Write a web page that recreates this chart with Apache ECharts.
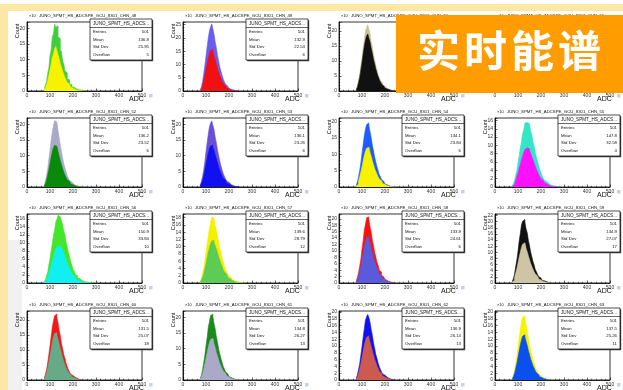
<!DOCTYPE html>
<html>
<head>
<meta charset="utf-8">
<script src="https://cdn.jsdelivr.net/npm/echarts@6/dist/echarts.min.js"></script>
<style>
  html, body { margin: 0; padding: 0; background: #fff; }
  #chart { width: 623px; height: 390px; }
</style>
</head>
<body>
<div id="chart"></div>
<script>
// histogram bins: left edge of first bin and bin width (ADC)
const BIN_START = 75;
const BIN_WIDTH = 5;
const X_TICKS = [0, 100, 200, 300, 400, 500];

const CHANNELS = [48, 49, 50, 51, 52, 53, 54, 55, 56, 57, 58, 59, 60, 61, 62, 63];
const ENTRIES = [501, 501, 501, 501, 501, 501, 501, 501, 501, 501, 501, 501, 501, 501, 501, 501];
const MEANS = [136.8, 132.9, 133.6, 135.0, 136.2, 136.1, 134.1, 147.8, 150.9, 139.6, 133.9, 134.9, 131.5, 134.8, 136.9, 137.5];
const STD_DEVS = [25.95, 22.54, 24.12, 24.80, 23.52, 23.26, 23.84, 32.58, 33.84, 28.79, 24.61, 27.07, 25.07, 26.27, 26.14, 25.26];
const OVERFLOWS = [5, 6, 7, 6, 6, 6, 6, 4, 10, 12, 6, 17, 18, 13, 13, 11];

// y axis range (counts x10) and tick step per panel
const Y_MAX = [22, 26, 23, 21, 22, 22, 21, 16.6, 17.2, 19, 21.5, 22.5, 23, 22, 20.3, 20.3];
const Y_STEP = [5, 5, 5, 5, 5, 5, 5, 2, 2, 2, 2, 2, 5, 5, 2, 2];

// counts per bin (x10), drawn behind
const BACK_COUNTS = [
  [0.6,1.9,3.0,5.6,7.4,11.2,13.1,17.3,18.2,21.4,20.3,20.8,17.2,16.7,13.1,12.4,9.4,8.7,6.3,5.8,3.9,3.6,2.3,2.1,1.3,1.2,0.7,0.7,0.3,0.4,0.1,0.3,0.1,0.1],
  [0.5,1.6,3.5,6.5,9.6,13.2,16.8,20.1,22.7,24.2,25.3,23.4,21.4,18.6,16.3,13.4,11.3,9.0,7.4,5.9,4.4,3.5,2.5,1.8,1.4,0.9,0.7,0.5,0.3,0.2,0.2,0.1,0.1,0],
  [0.7,1.6,3.5,5.3,8.3,11.0,14.6,17.1,20.0,21.2,22.1,20.5,19.2,16.4,14.8,12.1,10.6,8.4,7.2,5.5,4.6,3.4,2.8,1.9,1.6,1.0,0.9,0.6,0.5,0.3,0.2,0.2,0.1,0.1],
  [0.6,1.5,3.2,5.1,7.2,10.4,12.8,16.1,17.7,19.8,20.1,19.2,17.0,15.4,13.0,11.4,9.2,7.9,6.2,5.3,3.9,3.3,2.3,1.9,1.3,1.1,0.7,0.6,0.4,0.3,0.2,0.2,0.1,0.1],
  [0.5,1.8,3.6,5.9,8.9,11.7,14.9,17.5,19.6,21.2,20.7,20.1,17.9,15.6,13.2,11.3,9.2,7.4,6.1,4.8,3.6,2.9,2.1,1.6,1.1,0.9,0.6,0.4,0.3,0.2,0.1,0.1,0.1,0],
  [0.6,1.7,3.3,5.4,8.1,11.3,14.2,16.9,19.2,20.4,21.1,19.6,18.3,15.9,14.1,11.8,10.0,8.2,6.8,5.4,4.3,3.4,2.6,1.9,1.5,1.0,0.8,0.6,0.4,0.3,0.2,0.2,0.1,0.1],
  [0.5,1.5,3.1,5.0,7.4,10.1,12.9,15.6,17.6,19.0,19.5,18.7,16.8,15.0,12.8,11.0,9.1,7.6,6.2,5.0,3.8,3.1,2.3,1.7,1.3,0.9,0.7,0.5,0.3,0.3,0.1,0.2,0.1,0],
  [0.3,0.9,1.5,2.9,4.0,5.9,7.4,9.5,10.8,12.9,13.8,15.4,15.6,16.0,15.2,14.9,13.4,12.6,10.8,9.9,8.3,7.3,6.0,5.2,4.1,3.4,2.7,2.1,1.6,1.3,0.9,0.8,0.5,0.4,0.3,0.3,0.1,0.2,0.1,0.1,0,0.1],
  [0.3,0.8,1.8,2.7,4.6,6.0,8.1,9.8,11.9,13.2,15.2,15.9,16.9,16.5,16.8,15.4,14.6,12.9,12.0,10.2,9.1,7.6,6.6,5.3,4.5,3.5,3.0,2.2,1.8,1.3,1.1,0.7,0.6,0.4,0.4,0.2,0.2,0.1,0.1,0.1,0,0.1],
  [0.4,1.2,2.6,4.0,6.3,8.3,11.0,12.9,15.3,16.6,18.2,17.8,17.4,15.6,14.6,12.6,11.4,9.6,8.5,6.9,5.9,4.6,3.9,3.0,2.4,1.8,1.5,1.1,0.8,0.6,0.5,0.3,0.3,0.2,0.2,0.1,0.1,0],
  [0.6,1.7,3.2,5.3,7.4,10.6,13.2,16.5,18.2,20.3,20.6,19.6,17.5,15.8,13.3,11.6,9.5,8.1,6.5,5.5,4.0,3.4,2.4,1.9,1.4,1.1,0.8,0.6,0.4,0.3,0.2,0.2,0.1,0.1],
  [0.5,1.4,3.0,5.4,7.5,10.3,13.6,16.1,18.9,20.1,20.7,19.9,17.7,16.4,13.9,12.2,10.1,8.6,7.0,5.9,4.4,3.7,2.8,2.1,1.6,1.2,0.9,0.7,0.5,0.4,0.3,0.2,0.2,0.1],
  [0.6,1.9,3.4,5.7,8.5,11.4,14.5,17.6,19.7,21.4,22.0,20.7,19.1,16.5,14.7,12.1,10.4,8.4,7.2,5.6,4.5,3.4,2.7,2.0,1.5,1.1,0.9,0.6,0.5,0.3,0.2,0.2,0.1,0.1],
  [0.5,1.6,3.3,5.5,7.9,10.9,13.5,16.8,18.6,20.6,21.0,20.1,18.0,16.3,13.8,12.0,9.9,8.3,6.9,5.6,4.3,3.5,2.6,2.0,1.5,1.1,0.8,0.6,0.4,0.3,0.2,0.2,0.1,0.1],
  [0.5,1.5,3.1,4.8,7.3,9.8,12.6,15.1,17.6,18.6,19.3,18.4,17.0,14.8,13.1,10.9,9.3,7.5,6.4,5.0,4.0,3.1,2.4,1.8,1.4,1.0,0.8,0.6,0.4,0.3,0.2,0.2,0.1,0.1],
  [0.5,1.4,2.9,4.9,7.0,9.7,12.5,14.7,17.3,18.4,18.9,18.1,16.2,14.6,12.4,10.8,8.8,7.5,6.0,5.0,3.8,3.1,2.3,1.7,1.3,1.0,0.7,0.6,0.4,0.3,0.2,0.2,0.1,0]
];

// counts per bin (x10), drawn in front
const FRONT_COUNTS = [
  [0.4,1.1,2.1,3.4,5.0,6.9,8.6,10.9,11.8,13.5,14.2,12.9,11.6,10.3,8.7,7.6,6.3,5.3,4.3,3.5,2.7,2.2,1.6,1.2,0.9,0.7,0.5,0.4,0.2,0.2,0.1,0.1,0.1,0],
  [0.3,1.0,2.2,4.0,6.0,8.2,10.4,12.5,14.0,15.3,15.6,14.6,13.2,11.6,10.0,8.3,7.0,5.6,4.6,3.6,2.8,2.1,1.5,1.1,0.8,0.6,0.4,0.3,0.2,0.1,0.1,0.1,0,0],
  [0.5,1.3,2.9,4.6,7.0,9.5,12.3,14.8,17.0,18.3,19.0,17.6,16.3,14.2,12.5,10.4,9.0,7.3,6.0,4.8,3.8,3.0,2.3,1.7,1.3,0.9,0.7,0.5,0.4,0.2,0.2,0.1,0.1,0],
  [0.4,1.0,2.0,3.3,4.7,6.6,8.2,10.2,11.4,12.6,12.9,12.2,10.9,9.8,8.3,7.2,5.9,5.0,4.0,3.3,2.5,2.1,1.5,1.2,0.8,0.7,0.5,0.4,0.2,0.2,0.1,0.1,0.1,0],
  [0.3,1.1,2.3,3.8,5.6,7.5,9.5,11.2,12.6,13.3,13.0,12.5,11.2,9.8,8.3,7.1,5.8,4.7,3.8,3.0,2.3,1.8,1.3,1.0,0.7,0.5,0.4,0.3,0.2,0.1,0.1,0.1,0,0],
  [0.4,1.1,2.1,3.5,5.2,7.2,9.0,10.8,12.3,13.1,13.4,12.6,11.7,10.2,9.0,7.6,6.4,5.3,4.4,3.5,2.8,2.2,1.7,1.2,1.0,0.6,0.5,0.4,0.2,0.2,0.1,0.1,0.1,0],
  [0.3,0.9,1.9,3.1,4.6,6.2,8.0,9.7,10.9,11.8,12.1,11.5,10.4,9.3,8.0,6.8,5.6,4.7,3.9,3.1,2.4,1.9,1.4,1.1,0.8,0.6,0.4,0.3,0.2,0.2,0.1,0.1,0,0],
  [0.2,0.5,0.9,1.7,2.5,3.4,4.5,5.5,6.6,7.5,8.3,9.0,9.4,9.5,9.2,8.7,8.1,7.3,6.6,5.8,5.0,4.3,3.6,3.0,2.5,2.0,1.6,1.2,1.0,0.8,0.6,0.4,0.3,0.2,0.2,0.1,0.1,0.1,0,0,0,0],
  [0.2,0.5,1.0,1.6,2.5,3.4,4.5,5.5,6.6,7.5,8.4,9.0,9.3,9.3,9.1,8.7,8.1,7.4,6.6,5.8,5.0,4.3,3.6,3.0,2.5,2.0,1.6,1.3,1.0,0.8,0.6,0.4,0.3,0.2,0.2,0.1,0.1,0.1,0,0,0,0],
  [0.2,0.8,1.6,2.7,3.9,5.4,7.0,8.5,9.8,10.9,11.6,11.7,11.1,10.3,9.4,8.3,7.3,6.3,5.4,4.6,3.7,3.0,2.5,2.0,1.5,1.2,0.9,0.7,0.5,0.4,0.3,0.2,0.2,0.1,0.1,0.1,0,0],
  [0.4,1.2,2.3,3.7,5.3,7.4,9.3,11.4,12.9,14.1,14.5,13.7,12.3,10.9,9.4,8.0,6.7,5.6,4.6,3.7,2.9,2.3,1.7,1.3,1.0,0.7,0.6,0.4,0.3,0.2,0.1,0.1,0.1,0],
  [0.3,0.9,1.9,3.3,4.7,6.5,8.4,10.0,11.6,12.6,13.1,12.5,11.3,10.2,8.9,7.6,6.4,5.4,4.5,3.7,2.9,2.3,1.8,1.3,1.0,0.8,0.6,0.4,0.3,0.2,0.2,0.1,0.1,0],
  [0.4,1.3,2.5,4.1,6.1,8.2,10.4,12.6,14.4,15.5,15.8,15.0,13.6,12.0,10.5,8.9,7.5,6.2,5.1,4.1,3.2,2.5,1.9,1.4,1.1,0.8,0.6,0.4,0.3,0.2,0.2,0.1,0.1,0],
  [0.3,1.0,2.1,3.5,5.1,6.9,8.7,10.5,11.9,12.9,13.3,12.7,11.5,10.3,8.8,7.6,6.4,5.3,4.4,3.6,2.8,2.2,1.7,1.3,1.0,0.7,0.5,0.4,0.3,0.2,0.1,0.1,0.1,0],
  [0.3,1.0,2.0,3.3,4.8,6.6,8.5,10.2,11.6,12.6,13.0,12.4,11.2,9.9,8.6,7.3,6.1,5.1,4.2,3.4,2.6,2.1,1.6,1.2,0.9,0.7,0.5,0.4,0.3,0.2,0.1,0.1,0.1,0],
  [0.4,1.0,2.0,3.4,4.9,6.7,8.6,10.3,11.8,12.9,13.3,12.7,11.4,10.2,8.7,7.5,6.2,5.2,4.2,3.5,2.7,2.1,1.6,1.2,0.9,0.7,0.5,0.4,0.3,0.2,0.1,0.1,0.1,0]
];

// fill colours (style, not data)
const BACK_COLORS = ['#3fcf3a', '#6a5cf0', '#c9bf9a', '#3355ff', '#aaaac8', '#6a50d8', '#1f5cff', '#33e6c6',
                     '#44e62a', '#f5f000', '#ff1010', '#111111', '#f01818', '#1a8a1a', '#1010f0', '#f6f200'];
const FRONT_COLORS = ['#f7f200', '#f21010', '#111111', '#66dd66', '#0a8a0a', '#1010f0', '#f7f200', '#ff10ff',
                      '#10f0f0', '#5ccc55', '#5a5ade', '#cdc5a5', '#66aa88', '#aaaac8', '#cc5a50', '#0a50f0'];

const COL_X = [27, 183, 339, 495];
const ROW_TOP = [22, 118, 214, 311];
const PLOT_W = 115;
const PLOT_H = 69;
const FONT = '"Liberation Sans", Arial, sans-serif';

function histData(counts) {
  const pts = counts.map((v, i) => [BIN_START + i * BIN_WIDTH, v]);
  pts.push([BIN_START + counts.length * BIN_WIDTH, 0]);
  return pts;
}

function txt(x, y, text, size, extra) {
  return Object.assign({
    type: 'text', x: x, y: y, z: 60, silent: true,
    style: { text: text, fontSize: size, fontFamily: FONT, fill: '#111', align: 'left', verticalAlign: 'middle' }
  }, extra || {});
}

const grids = [], xAxes = [], yAxes = [], series = [];
const graphics = [
  { type: 'rect', z: -5, shape: { x: 0, y: 4, width: 623, height: 7 }, style: { fill: '#fde7a4' } },
  { type: 'rect', z: -5, shape: { x: 0, y: 4, width: 8, height: 386 }, style: { fill: '#fde7a4' } },
  { type: 'rect', z: -5, shape: { x: 8, y: 240, width: 14, height: 150 }, style: { fill: '#f1f1f3' } }
];

CHANNELS.forEach((ch, i) => {
  const x0 = COL_X[i % 4];
  const top = ROW_TOP[Math.floor(i / 4)];
  const bottom = top + PLOT_H;

  grids.push({ left: x0, top: top, width: PLOT_W, height: PLOT_H, show: true,
    borderColor: '#000', borderWidth: 0.8, backgroundColor: '#fff' });

  xAxes.push({
    type: 'value', gridIndex: i, min: X_TICKS[0], max: X_TICKS[X_TICKS.length - 1],
    interval: X_TICKS[1] - X_TICKS[0],
    axisLine: { lineStyle: { color: '#000', width: 0.8 } },
    axisTick: { inside: true, length: 2.5, lineStyle: { color: '#000', width: 0.6 } },
    minorTick: { show: true, splitNumber: 5, length: 1.3, lineStyle: { color: '#000', width: 0.5 } },
    splitLine: { show: false },
    axisLabel: { fontSize: 5, fontFamily: FONT, color: '#333', margin: 2 }
  });

  yAxes.push({
    type: 'value', gridIndex: i, min: 0, max: Y_MAX[i], interval: Y_STEP[i],
    axisLine: { show: true, lineStyle: { color: '#000', width: 0.8 } },
    axisTick: { show: true, inside: true, length: 2.5, lineStyle: { color: '#000', width: 0.6 } },
    minorTick: { show: true, splitNumber: Y_STEP[i] === 5 ? 5 : 4, length: 1.3, lineStyle: { color: '#000', width: 0.5 } },
    splitLine: { show: false },
    axisLabel: { fontSize: 5, fontFamily: FONT, color: '#333', margin: 2, showMaxLabel: false }
  });

  series.push({
    type: 'line', xAxisIndex: i, yAxisIndex: i, step: 'end', symbol: 'none', silent: true,
    data: histData(BACK_COUNTS[i]),
    lineStyle: { color: BACK_COLORS[i], width: 0.6 },
    areaStyle: { color: BACK_COLORS[i], opacity: 1 }
  });
  series.push({
    type: 'line', xAxisIndex: i, yAxisIndex: i, step: 'end', symbol: 'none', silent: true,
    data: histData(FRONT_COUNTS[i]),
    lineStyle: { color: FRONT_COLORS[i], width: 0.6 },
    areaStyle: { color: FRONT_COLORS[i], opacity: 1 }
  });

  // title, axis titles
  graphics.push(txt(x0 + 2, top - 6, '×10', 4));
  graphics.push(txt(x0 + 12, top - 6, 'JUNO_SPMT_HS_ADCSPE_GCU_8301_CHN_' + ch, 4.3));
  graphics.push(txt(x0 - 10, top + 9, 'Count', 5.5, { rotation: Math.PI / 2,
    style: { text: 'Count', fontSize: 5.5, fontFamily: FONT, fill: '#111', align: 'center', verticalAlign: 'middle' } }));
  graphics.push(txt(x0 + 102, bottom + 8, 'ADC', 7));
  graphics.push({ type: 'rect', z: 60, silent: true,
    shape: { x: x0 + 122, y: bottom + 3, width: 3.5, height: 3.5 }, style: { fill: '#c3d3ec' } });

  // stats box
  const bx = x0 + 63, by = top - 3, bw = 62, bh = 41;
  graphics.push({ type: 'rect', z: 55, silent: true, shape: { x: bx + 1.2, y: by + 1.2, width: bw, height: bh }, style: { fill: '#444' } });
  graphics.push({ type: 'rect', z: 56, silent: true, shape: { x: bx, y: by, width: bw, height: bh },
    style: { fill: '#fff', stroke: '#000', lineWidth: 0.7 } });
  graphics.push({ type: 'line', z: 57, silent: true, shape: { x1: bx, y1: by + 8.5, x2: bx + bw, y2: by + 8.5 },
    style: { stroke: '#000', lineWidth: 0.6 } });
  graphics.push(txt(bx + bw / 2, by + 4.5, 'JUNO_SPMT_HS_ADCS...', 4.6,
    { style: { text: 'JUNO_SPMT_HS_ADCS...', fontSize: 4.6, fontFamily: FONT, fill: '#111', align: 'center', verticalAlign: 'middle' } }));
  const rows = [['Entries', String(ENTRIES[i])], ['Mean', MEANS[i].toFixed(1)],
                ['Std Dev', STD_DEVS[i].toFixed(2)], ['Overflow', String(OVERFLOWS[i])]];
  rows.forEach((r, k) => {
    const ry = by + 12.7 + k * 7.7;
    graphics.push(txt(bx + 3, ry, r[0], 4.3));
    graphics.push(txt(bx + bw - 3, ry, r[1], 4.3,
      { style: { text: r[1], fontSize: 4.3, fontFamily: FONT, fill: '#111', align: 'right', verticalAlign: 'middle' } }));
  });
});

// orange banner on top
graphics.push({ type: 'rect', z: 100, silent: true, shape: { x: 396, y: 15, width: 227, height: 78 }, style: { fill: '#ff9c00' } });
['实', '时', '能', '谱'].forEach((c, k) => {
  graphics.push({ type: 'text', z: 101, silent: true, x: 438.5 + k * 47, y: 51,
    style: { text: c, fontSize: 43, fontWeight: 'bold', fontFamily: '"Noto Sans CJK SC", sans-serif',
      fill: '#fff', align: 'center', verticalAlign: 'middle' } });
});

const chart = echarts.init(document.getElementById('chart'));
chart.setOption({
  animation: false,
  backgroundColor: '#fff',
  grid: grids,
  xAxis: xAxes,
  yAxis: yAxes,
  series: series,
  graphic: graphics
});
</script>
</body>
</html>
